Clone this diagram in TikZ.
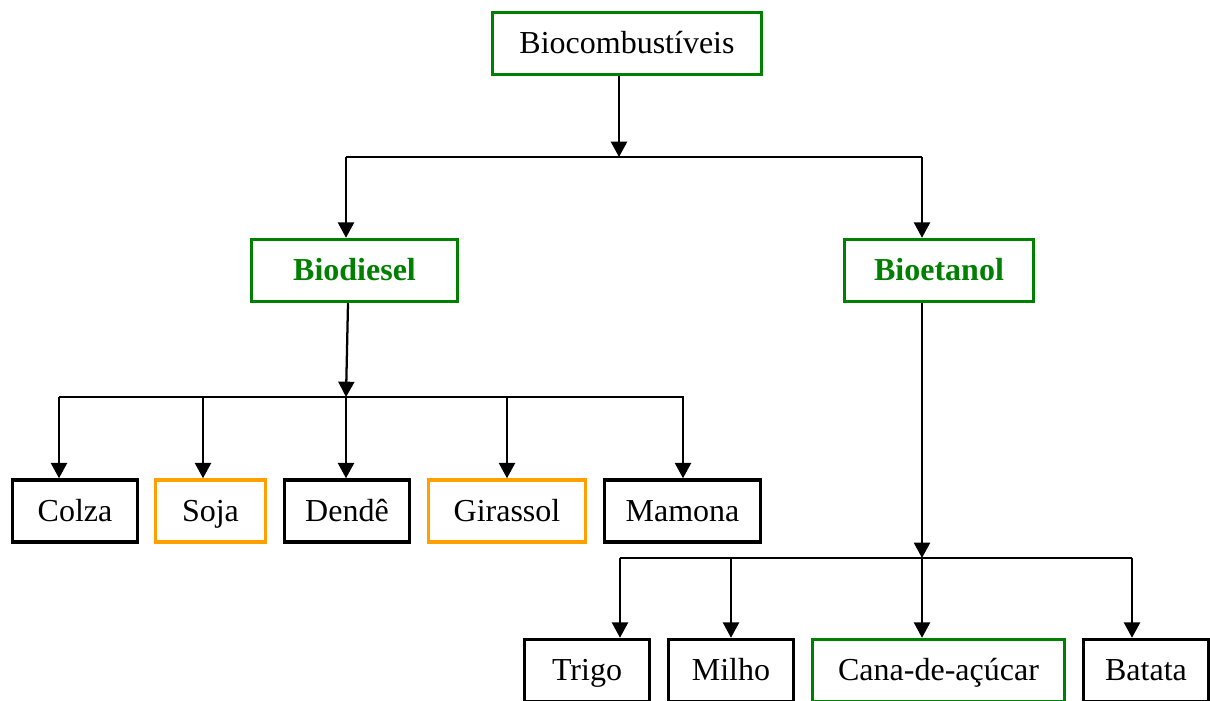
\documentclass[tikz,border=0pt]{standalone}
\usepackage{fontspec}
\setmainfont{Liberation Serif}
\usetikzlibrary{arrows.meta}
\definecolor{leafgreen}{RGB}{0,128,0}
\definecolor{cropamber}{RGB}{255,160,0}
\begin{document}
\begin{tikzpicture}[x=0.75pt,y=-0.75pt,>={Triangle[length=11.5pt,width=12pt]},line join=miter,
  box/.style={draw=black,line width=2.6pt,minimum height=62*0.75pt,inner sep=0pt,text height=17pt,text depth=2pt,font=\fontsize{24}{28}\selectfont},
  greenbox/.style={box,draw=leafgreen},
  amberbox/.style={box,draw=cropamber},
  link/.style={line width=1.7pt}]
\useasboundingbox (0,0) rectangle (1210,700);
% boxes
\node[greenbox,minimum width=269*0.75pt] (bio) at (627,43.5) {Biocombustíveis};
\node[greenbox,minimum width=206*0.75pt,text=leafgreen,font=\fontsize{24}{28}\selectfont\bfseries] (dsl) at (354.5,270.5) {Biodiesel};
\node[greenbox,minimum width=189*0.75pt,text=leafgreen,font=\fontsize{24}{28}\selectfont\bfseries] (eta) at (939,270.5) {Bioetanol};
\node[box,minimum width=125*0.75pt] (colza) at (75,511) {Colza};
\node[amberbox,minimum width=110*0.75pt] (soja) at (210.5,511) {Soja};
\node[box,minimum width=125*0.75pt] (dende) at (347,511) {Dendê};
\node[amberbox,minimum width=157*0.75pt] (girassol) at (507,511) {Girassol};
\node[box,minimum width=156*0.75pt] (mamona) at (682.5,511) {Mamona};
\node[box,minimum width=125*0.75pt] (trigo) at (587,670.5) {Trigo};
\node[box,minimum width=125*0.75pt] (milho) at (731,670.5) {Milho};
\node[greenbox,minimum width=252*0.75pt] (cana) at (938.5,670.5) {Cana-de-açúcar};
\node[box,minimum width=125*0.75pt] (batata) at (1146,670.5) {Batata};
% bus lines
\coordinate (top) at (619,157);
\coordinate (topL) at (346,157);
\coordinate (topR) at (922,157);
\coordinate (dslS) at (348,303);
\coordinate (dslJ) at (346,397);
\coordinate (dslL) at (59,397);
\coordinate (dslR) at (684,397);
\coordinate (etaJ) at (922,558);
\coordinate (etaL) at (620,558);
\coordinate (etaR) at (1132,558);
\draw[->,link] (bio.south -| top) -- (top);
\draw[link] (topL) -- (topR);
\draw[->,link] (topL) -- (topL |- dsl.north);
\draw[->,link] (topR) -- (topR |- eta.north);
\draw[->,link] (dsl.south -| dslS) -- (dslJ);
\draw[link] (dslL) -- (dslR);
\foreach \x/\n in {59/colza,203/soja,346/dende,507/girassol,683/mamona}
  \draw[->,link] (\x,397) -- (\x,397 |- \n.north);
\draw[->,link] (eta.south -| etaJ) -- (etaJ);
\draw[link] (etaL) -- (etaR);
\foreach \x/\n in {620/trigo,731/milho,922/cana,1132/batata}
  \draw[->,link] (\x,558) -- (\x,558 |- \n.north);
\end{tikzpicture}
\end{document}
